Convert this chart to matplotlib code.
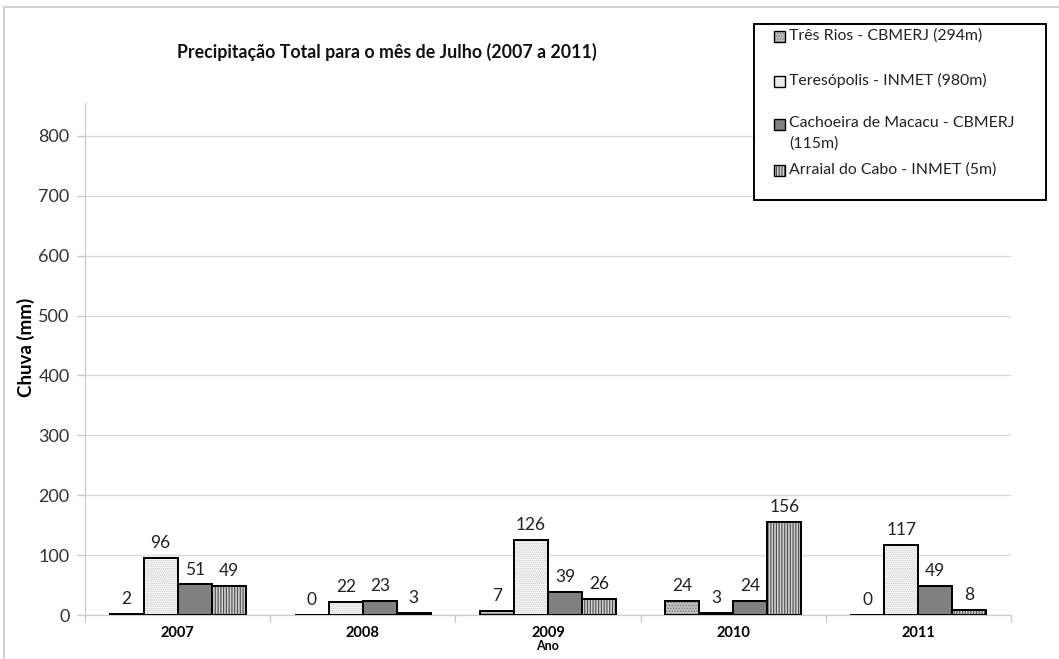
import numpy as np
import matplotlib
matplotlib.use('Agg')
import matplotlib.pyplot as plt
from matplotlib.patches import Rectangle

plt.rcParams['font.family'] = ['Lato', 'DejaVu Sans']
plt.rcParams['hatch.linewidth'] = 0.8

anos = ['2007', '2008', '2009', '2010', '2011']
tres_rios = [2, 0, 7, 24, 0]
teresopolis = [96, 22, 126, 3, 117]
cachoeira = [51, 23, 39, 24, 49]
arraial = [49, 3, 26, 156, 8]

estacoes = ['Três Rios - CBMERJ (294m)', 'Teresópolis - INMET (980m)',
            'Cachoeira de Macacu - CBMERJ\n(115m)', 'Arraial do Cabo - INMET (5m)']
series = [tres_rios, teresopolis, cachoeira, arraial]

# estilos de preenchimento (cor, hachura, cor da hachura)
estilos = [
    ('#c4c4c4', '......', '#7a7a7a'),
    ('#ffffff', '........', '#c4c4c4'),
    ('#808080', '', '#808080'),
    ('#cfcfcf', '||||||', '#4a4a4a'),
]

fig = plt.figure(figsize=(10.59, 6.59), dpi=100)
# borda externa do grafico
fig.patches.append(Rectangle((4 / 1059, -0.01), 1.0, 1 - 7 / 659 + 0.01, transform=fig.transFigure,
                             fill=False, edgecolor='#c8c8c8', linewidth=1.2))

ax = fig.add_axes([85 / 1059, 1 - 615 / 659, (1011 - 85) / 1059, (615 - 103) / 659])

x = np.arange(len(anos))
w = 0.1836
for i, (vals, (fc, hatch, hc)) in enumerate(zip(series, estilos)):
    pos = x + (i - 1.5) * w
    bars = ax.bar(pos, vals, width=w, facecolor=fc, edgecolor='black', linewidth=1.4, zorder=3)
    for b in bars:
        b.set_hatch(hatch)
        b._hatch_color = matplotlib.colors.to_rgba(hc)
    # bordas pretas por cima da hachura
    ax.bar(pos, vals, width=w, fill=False, edgecolor='black', linewidth=1.4, zorder=4)
    for p, v in zip(pos, vals):
        ax.annotate(str(v), (p, v), xytext=(0, 5), textcoords='offset points',
                    ha='center', va='bottom', fontsize=12.5, color='#222222')

ax.set_xlim(-0.5, len(anos) - 0.5)
ax.set_ylim(0, 855)
ax.set_yticks(np.arange(0, 801, 100))
ax.set_yticklabels([str(v) for v in range(0, 801, 100)], fontsize=13, color='#333333')
ax.yaxis.grid(True, color='#d9d9d9', linewidth=1.0, zorder=0)
ax.set_axisbelow(True)

ax.set_xticks(x)
ax.set_xticklabels(anos, fontsize=10.5, fontweight='bold')
ax.tick_params(axis='x', length=0, pad=8)
ax.set_xticks(np.arange(-0.5, len(anos)), minor=True)
ax.tick_params(axis='x', which='minor', length=5, color='#c8c8c8', width=1)
ax.tick_params(axis='y', length=6, color='#c8c8c8', width=1, pad=5)

for s in ['top', 'right']:
    ax.spines[s].set_visible(False)
for s in ['left', 'bottom']:
    ax.spines[s].set_color('#d0d0d0')
    ax.spines[s].set_linewidth(1.0)

ax.set_ylabel('Chuva (mm)', fontsize=13.5, fontweight='bold')
ax.yaxis.set_label_coords(-0.054, 0.523)
ax.set_xlabel('Ano', fontsize=9, fontweight='bold', labelpad=0)

fig.text(387 / 1059, 1 - 52 / 659, 'Precipitação Total para o mês de Julho (2007 a 2011)',
         ha='center', va='center', fontsize=12.8, fontweight='bold', color='#111111')

# legenda desenhada na figura
fig.patches.append(Rectangle((754 / 1059, 1 - 200 / 659), (1046 - 754) / 1059, 176 / 659,
                             transform=fig.transFigure, facecolor='white', edgecolor='black',
                             linewidth=1.4, zorder=5))
ys = [37, 82, 125, 171]
for (fc, hatch, hc), label, yy in zip(estilos, estacoes, ys):
    r = Rectangle((774 / 1059, 1 - (yy + 5) / 659), 11 / 1059, 11 / 659, transform=fig.transFigure,
                  facecolor=fc, edgecolor='black', linewidth=1.0, hatch=hatch, zorder=6)
    r._hatch_color = matplotlib.colors.to_rgba(hc)
    fig.patches.append(r)
    fig.text(789 / 1059, 1 - (yy - 9) / 659, label, ha='left', va='top', fontsize=11.4,
             color='#222222', linespacing=1.55, zorder=6)

fig.savefig('out.png', dpi=100)
